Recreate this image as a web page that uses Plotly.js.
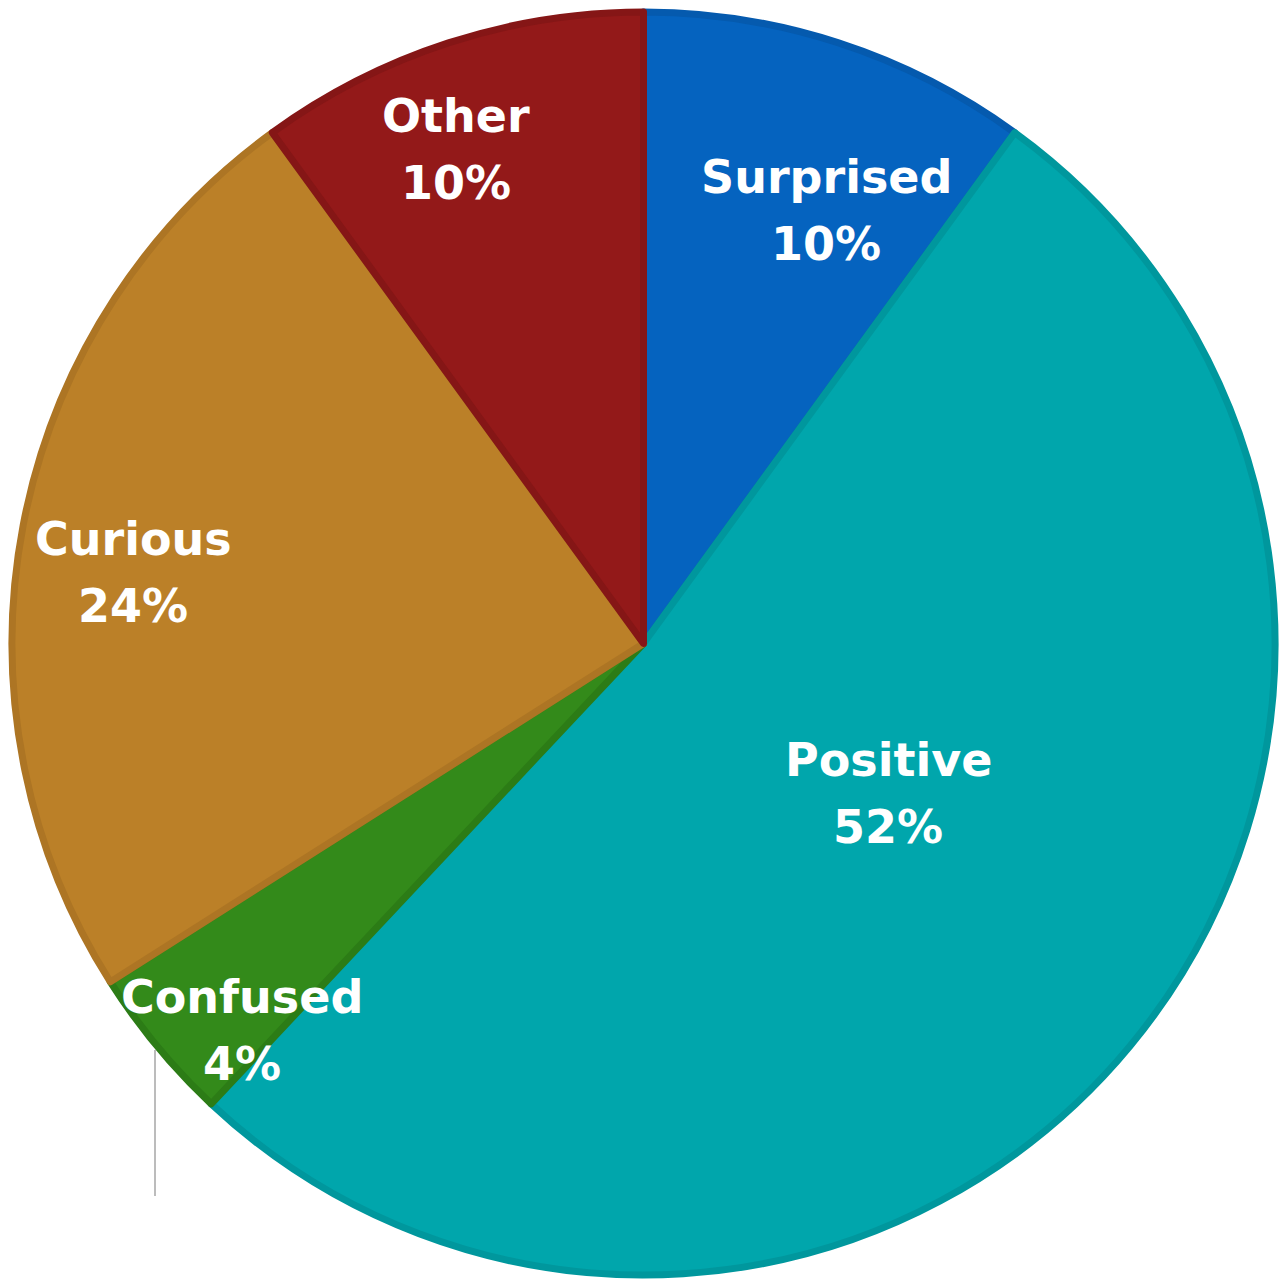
<!DOCTYPE html>
<html>
<head>
<meta charset="utf-8">
<script src="https://cdn.plot.ly/plotly-3.0.1.min.js"></script>
<style>html,body{margin:0;padding:0;background:#fff;}#chart{width:1279px;height:1281px;}</style>
</head>
<body>
<div id="chart"></div>
<script>
const categories = ["Surprised", "Positive", "Confused", "Curious", "Other"];
const percentages = [10, 52, 4, 24, 10];
const fillColors = ["#0563BF", "#00A6AC", "#338A1A", "#BB8028", "#931919"];
const borderColors = ["#055AAE", "#00979D", "#2C7C16", "#AD7524", "#851616"];

// label placement inside each slice: fraction of radius, angle shift (deg) from slice mid-angle
const labelRadialFraction = [0.74, 0.452, 0.879, 0.811, 0.832];
const labelAngleShift = [4.9, -8.2, -4.35, -2.9, -2.84];

const W = 1279, H = 1281;
const LW = 7;
const M = { l: 12, r: 4, t: 12, b: 6 };
const plotW = W - M.l - M.r, plotH = H - M.t - M.b;
const cx = M.l + plotW / 2, cy = M.t + plotH / 2;
const R = Math.min(plotW, plotH) / 2 + LW / 2;
const toPaperX = px => (px - M.l) / plotW;
const toPaperY = py => 1 - (py - M.t) / plotH;

const total = percentages.reduce((a, b) => a + b, 0);
const annotations = [];
let cum = 0;
const labelFont = { family: "DejaVu Sans", size: 46, color: "#ffffff", weight: "bold" };
percentages.forEach((v, i) => {
  const mid = (cum + v / 2) / total * 360 + labelAngleShift[i];
  cum += v;
  const th = mid * Math.PI / 180;
  const px = cx + R * labelRadialFraction[i] * Math.sin(th);
  const py = cy - R * labelRadialFraction[i] * Math.cos(th);
  annotations.push({ xref: "paper", yref: "paper", x: toPaperX(px), y: toPaperY(py - 33.5),
    text: categories[i], showarrow: false, xanchor: "center", yanchor: "middle", font: labelFont });
  annotations.push({ xref: "paper", yref: "paper", x: toPaperX(px), y: toPaperY(py + 33.5),
    text: v + "%", showarrow: false, xanchor: "center", yanchor: "middle", font: labelFont });
});

const trace = {
  type: "pie",
  labels: categories,
  values: percentages,
  sort: false,
  direction: "clockwise",
  rotation: 0,
  marker: { colors: fillColors, line: { color: borderColors, width: LW } },
  textinfo: "none",
  hoverinfo: "none",
  showlegend: false
};

const layout = {
  width: W, height: H,
  margin: M,
  paper_bgcolor: "#ffffff",
  showlegend: false,
  annotations: annotations,
  shapes: [{
    type: "line", xref: "paper", yref: "paper",
    x0: toPaperX(155), x1: toPaperX(155), y0: toPaperY(1050), y1: toPaperY(1196),
    line: { color: "#A6A6A6", width: 1.5 }
  }]
};

Plotly.newPlot("chart", [trace], layout, { displayModeBar: false, staticPlot: true });
</script>
</body>
</html>
